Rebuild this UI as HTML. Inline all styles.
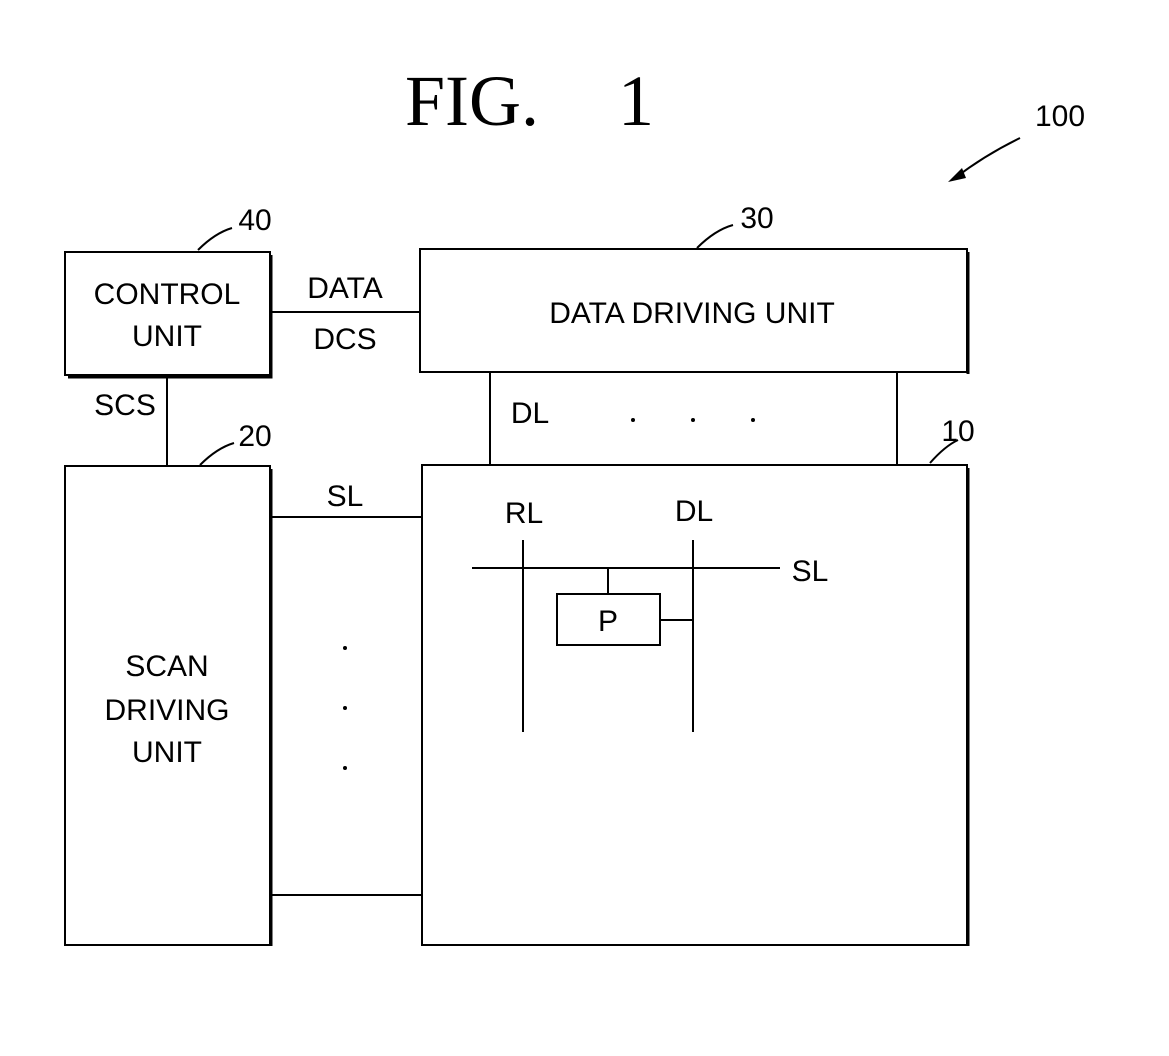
<!DOCTYPE html>
<html><head><meta charset="utf-8"><style>
html,body{margin:0;padding:0;background:#fff;}
svg text{font-family:"Liberation Sans",sans-serif;fill:#000;}
</style></head><body>
<svg width="1169" height="1051" viewBox="0 0 1169 1051" xmlns="http://www.w3.org/2000/svg">
<g fill="none" stroke="#000" stroke-width="2">
<rect x="65" y="252" width="205" height="123"/>
<path d="M271 255V377H68" stroke-width="3"/>
<rect x="420" y="249" width="547" height="123"/>
<path d="M968 252V374" stroke-width="3"/>
<rect x="65" y="466" width="205" height="479"/>
<path d="M271 469V946" stroke-width="3"/>
<rect x="422" y="465" width="545" height="480"/>
<path d="M968 468V946" stroke-width="3"/>
<line x1="271" y1="312" x2="420" y2="312"/>
<line x1="167" y1="377" x2="167" y2="466"/>
<line x1="490" y1="372" x2="490" y2="465"/>
<line x1="897" y1="372" x2="897" y2="465"/>
<line x1="271" y1="517" x2="422" y2="517"/>
<line x1="271" y1="895" x2="422" y2="895"/>
<line x1="523" y1="540" x2="523" y2="732"/>
<line x1="693" y1="540" x2="693" y2="732"/>
<line x1="472" y1="568" x2="780" y2="568"/>
<line x1="608" y1="568" x2="608" y2="594"/>
<rect x="557" y="594" width="103" height="51"/>
<line x1="660" y1="620" x2="693" y2="620"/>
<path d="M198 250 Q215 233 232 228"/>
<path d="M200 465 Q217 448 234 443"/>
<path d="M697 248 Q715 230 733 225"/>
<path d="M930 463 Q945 446 958 440"/>
<path d="M1020 138 Q985 155 955 178"/>
</g>
<polygon points="948,182 962,168 966,178" fill="#000"/>
<g fill="#000">
<circle cx="633" cy="420" r="2"/><circle cx="693" cy="420" r="2"/><circle cx="753" cy="420" r="2"/>
<circle cx="345" cy="648" r="2"/><circle cx="345" cy="708" r="2"/><circle cx="345" cy="768" r="2"/>
</g>
<text x="405" y="125" font-size="72" style="font-family:'Liberation Serif',serif">FIG.</text>
<text x="618" y="125" font-size="72" style="font-family:'Liberation Serif',serif">1</text>
<text x="1060" y="126" font-size="30" text-anchor="middle">100</text>
<text x="255" y="230" font-size="30" text-anchor="middle">40</text>
<text x="757" y="228" font-size="30" text-anchor="middle">30</text>
<text x="255" y="446" font-size="30" text-anchor="middle">20</text>
<text x="958" y="441" font-size="30" text-anchor="middle">10</text>
<text x="167" y="304" font-size="30" text-anchor="middle">CONTROL</text>
<text x="167" y="346" font-size="30" text-anchor="middle">UNIT</text>
<text x="345" y="298" font-size="30" text-anchor="middle">DATA</text>
<text x="345" y="349" font-size="30" text-anchor="middle">DCS</text>
<text x="692" y="323" font-size="30" text-anchor="middle">DATA DRIVING UNIT</text>
<text x="125" y="415" font-size="30" text-anchor="middle">SCS</text>
<text x="530" y="423" font-size="30" text-anchor="middle">DL</text>
<text x="345" y="506" font-size="30" text-anchor="middle">SL</text>
<text x="167" y="676" font-size="30" text-anchor="middle">SCAN</text>
<text x="167" y="720" font-size="30" text-anchor="middle">DRIVING</text>
<text x="167" y="762" font-size="30" text-anchor="middle">UNIT</text>
<text x="524" y="523" font-size="30" text-anchor="middle">RL</text>
<text x="694" y="521" font-size="30" text-anchor="middle">DL</text>
<text x="810" y="581" font-size="30" text-anchor="middle">SL</text>
<text x="608" y="631" font-size="30" text-anchor="middle">P</text>
</svg>
</body></html>
